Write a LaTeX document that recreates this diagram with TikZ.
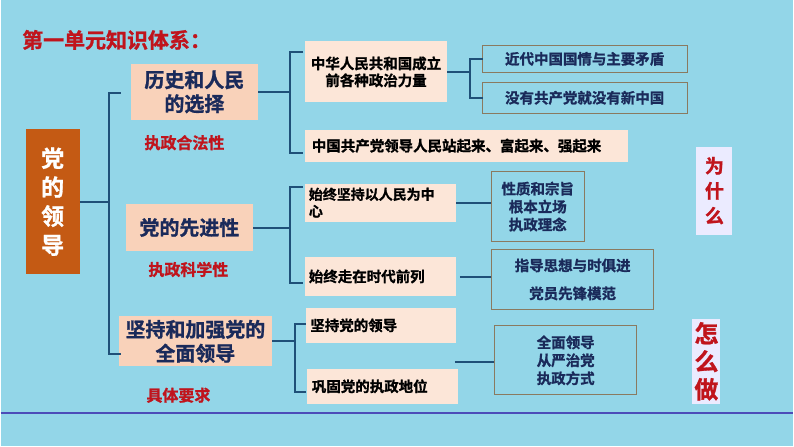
\documentclass[tikz,border=0pt]{standalone}
\usepackage{fontspec}
\setmainfont{Noto Sans CJK SC}
\newfontfamily\cjk{Noto Sans CJK SC}[UprightFont={* Bold},AutoFakeBold=1.2]
\definecolor{bg}{HTML}{93D6E8}
\definecolor{peach}{HTML}{F9D2BA}
\definecolor{lpeach}{HTML}{FCE6D8}
\definecolor{navy}{HTML}{1A2A5A}
\definecolor{br}{HTML}{1F5078}
\definecolor{rd}{HTML}{C0141C}
\definecolor{orng}{HTML}{C45A14}
\definecolor{bord}{HTML}{8A7A60}
\begin{document}
\begin{tikzpicture}[x=1pt,y=-1pt,
  big/.style={fill=peach,text=navy,font=\cjk\bfseries\fontsize{20}{24}\selectfont,align=center,inner sep=0},
  sm/.style={fill=lpeach,text=black,font=\cjk\bfseries\fontsize{14.5}{17}\selectfont,align=left,inner sep=0},
  ob/.style={draw=bord,thick,text=navy,font=\cjk\bfseries\fontsize{14.5}{18}\selectfont,align=center,inner sep=0},
  lab/.style={text=rd,font=\cjk\bfseries\fontsize{16}{18}\selectfont},
  brk/.style={draw=br,line width=2pt}]
\fill[bg] (0,0) rectangle (794,447);
\draw[blue!60!black!70,line width=1.5pt] (0,414) -- (794,414);
\node[text=rd,font=\cjk\bfseries\fontsize{21}{24}\selectfont,anchor=west] (title) at (18,40) {第一单元知识体系：};
\node[fill=orng,text=white,minimum width=54,minimum height=145,font=\cjk\bfseries\fontsize{23}{29}\selectfont,align=center,inner sep=0] (dang) at (52,202) {党\\的\\领\\导};
% level 1
\node[big,minimum width=128,minimum height=56] (a1) at (194,92) {历史和人民\\的选择};
\node[big,minimum width=128,minimum height=47] (a2) at (189,228) {党的先进性};
\node[big,minimum width=154,minimum height=50] (a3) at (195,342) {坚持和加强党的\\全面领导};
\node[lab] (l1) at (184,143) {执政合法性};
\node[lab] (l2) at (188,270) {执政科学性};
\node[lab] (l3) at (178,396) {具体要求};
\draw[brk] (120,93) -- (108,93) -- (108,355) -- (120,355);
\draw[brk] (dang.east) -- (108,202);
% bracket 2
\draw[brk] (a1.east) -- (290,92);
\draw[brk] (303,52) -- (290,52) -- (290,153) -- (303,153);
\node[sm,minimum width=142,minimum height=61,align=center] (b1) at (376,72) {中华人民共和国成立\\前各种政治力量};
\node[sm,minimum width=323,minimum height=32,anchor=west,text width=318,align=left] (b2) at (305,146) {\hspace{4pt}中国共产党领导人民站起来、富起来、强起来};
\node[ob,minimum width=205,minimum height=28] (c1) at (585,59) {近代中国国情与主要矛盾};
\node[ob,minimum width=205,minimum height=31] (c2) at (585,98) {没有共产党就没有新中国};
\draw[brk] (b1.east) -- (470,72);
\draw[brk] (483,59) -- (470,59) -- (470,98) -- (483,98);
% bracket 3
\draw[brk] (a2.east) -- (290,228);
\draw[brk] (303,187) -- (290,187) -- (290,284) -- (303,284);
\node[sm,minimum width=151,minimum height=38,anchor=west,text width=148] (d1) at (305,203) {\fontsize{14}{15}\selectfont\hspace{2pt}始终坚持以人民为中\\\hspace*{2pt}心};
\node[sm,minimum width=151,minimum height=39,anchor=west,text width=148] (d2) at (305,277) {\hspace{2pt}始终走在时代前列};
\node[ob,minimum width=93,minimum height=70] (e1) at (538,207) {性质和宗旨\\根本立场\\执政理念};
\node[ob,minimum width=162,minimum height=60] (e2) at (573,280) {指导思想与时俱进\\[10pt]党员先锋模范};
\draw[brk] (d1.east) -- (e1.west|-d1.east);
\draw[brk] (460,278) -- (e2.west|-0,278);
% bracket 4
\draw[brk] (a3.east) -- (295,342);
\draw[brk] (306,325) -- (295,325) -- (295,393) -- (306,393);
\node[sm,minimum width=150,minimum height=35,anchor=west,text width=146] (f1) at (306,326) {\hspace{2pt}坚持党的领导};
\node[sm,minimum width=151,minimum height=35,anchor=west,text width=146] (f2) at (307,387) {\hspace{2pt}巩固党的执政地位};
\node[ob,minimum width=142,minimum height=69] (g1) at (566,361) {全面领导\\从严治党\\执政方式};
\draw[brk] (455,363) -- (g1.west|-0,363);
% side labels
\node[fill=blue!8!white,text=rd,minimum width=36,minimum height=88,font=\cjk\bfseries\fontsize{19}{25}\selectfont,align=center,inner sep=0] (w) at (715,191) {为\\什\\么};
\node[fill=blue!8!white,text=rd,minimum width=28,minimum height=85,font=\cjk\bfseries\fontsize{24}{28}\selectfont,align=center,inner sep=0] (z) at (707,362) {怎\\么\\做};
\end{tikzpicture}
\end{document}
